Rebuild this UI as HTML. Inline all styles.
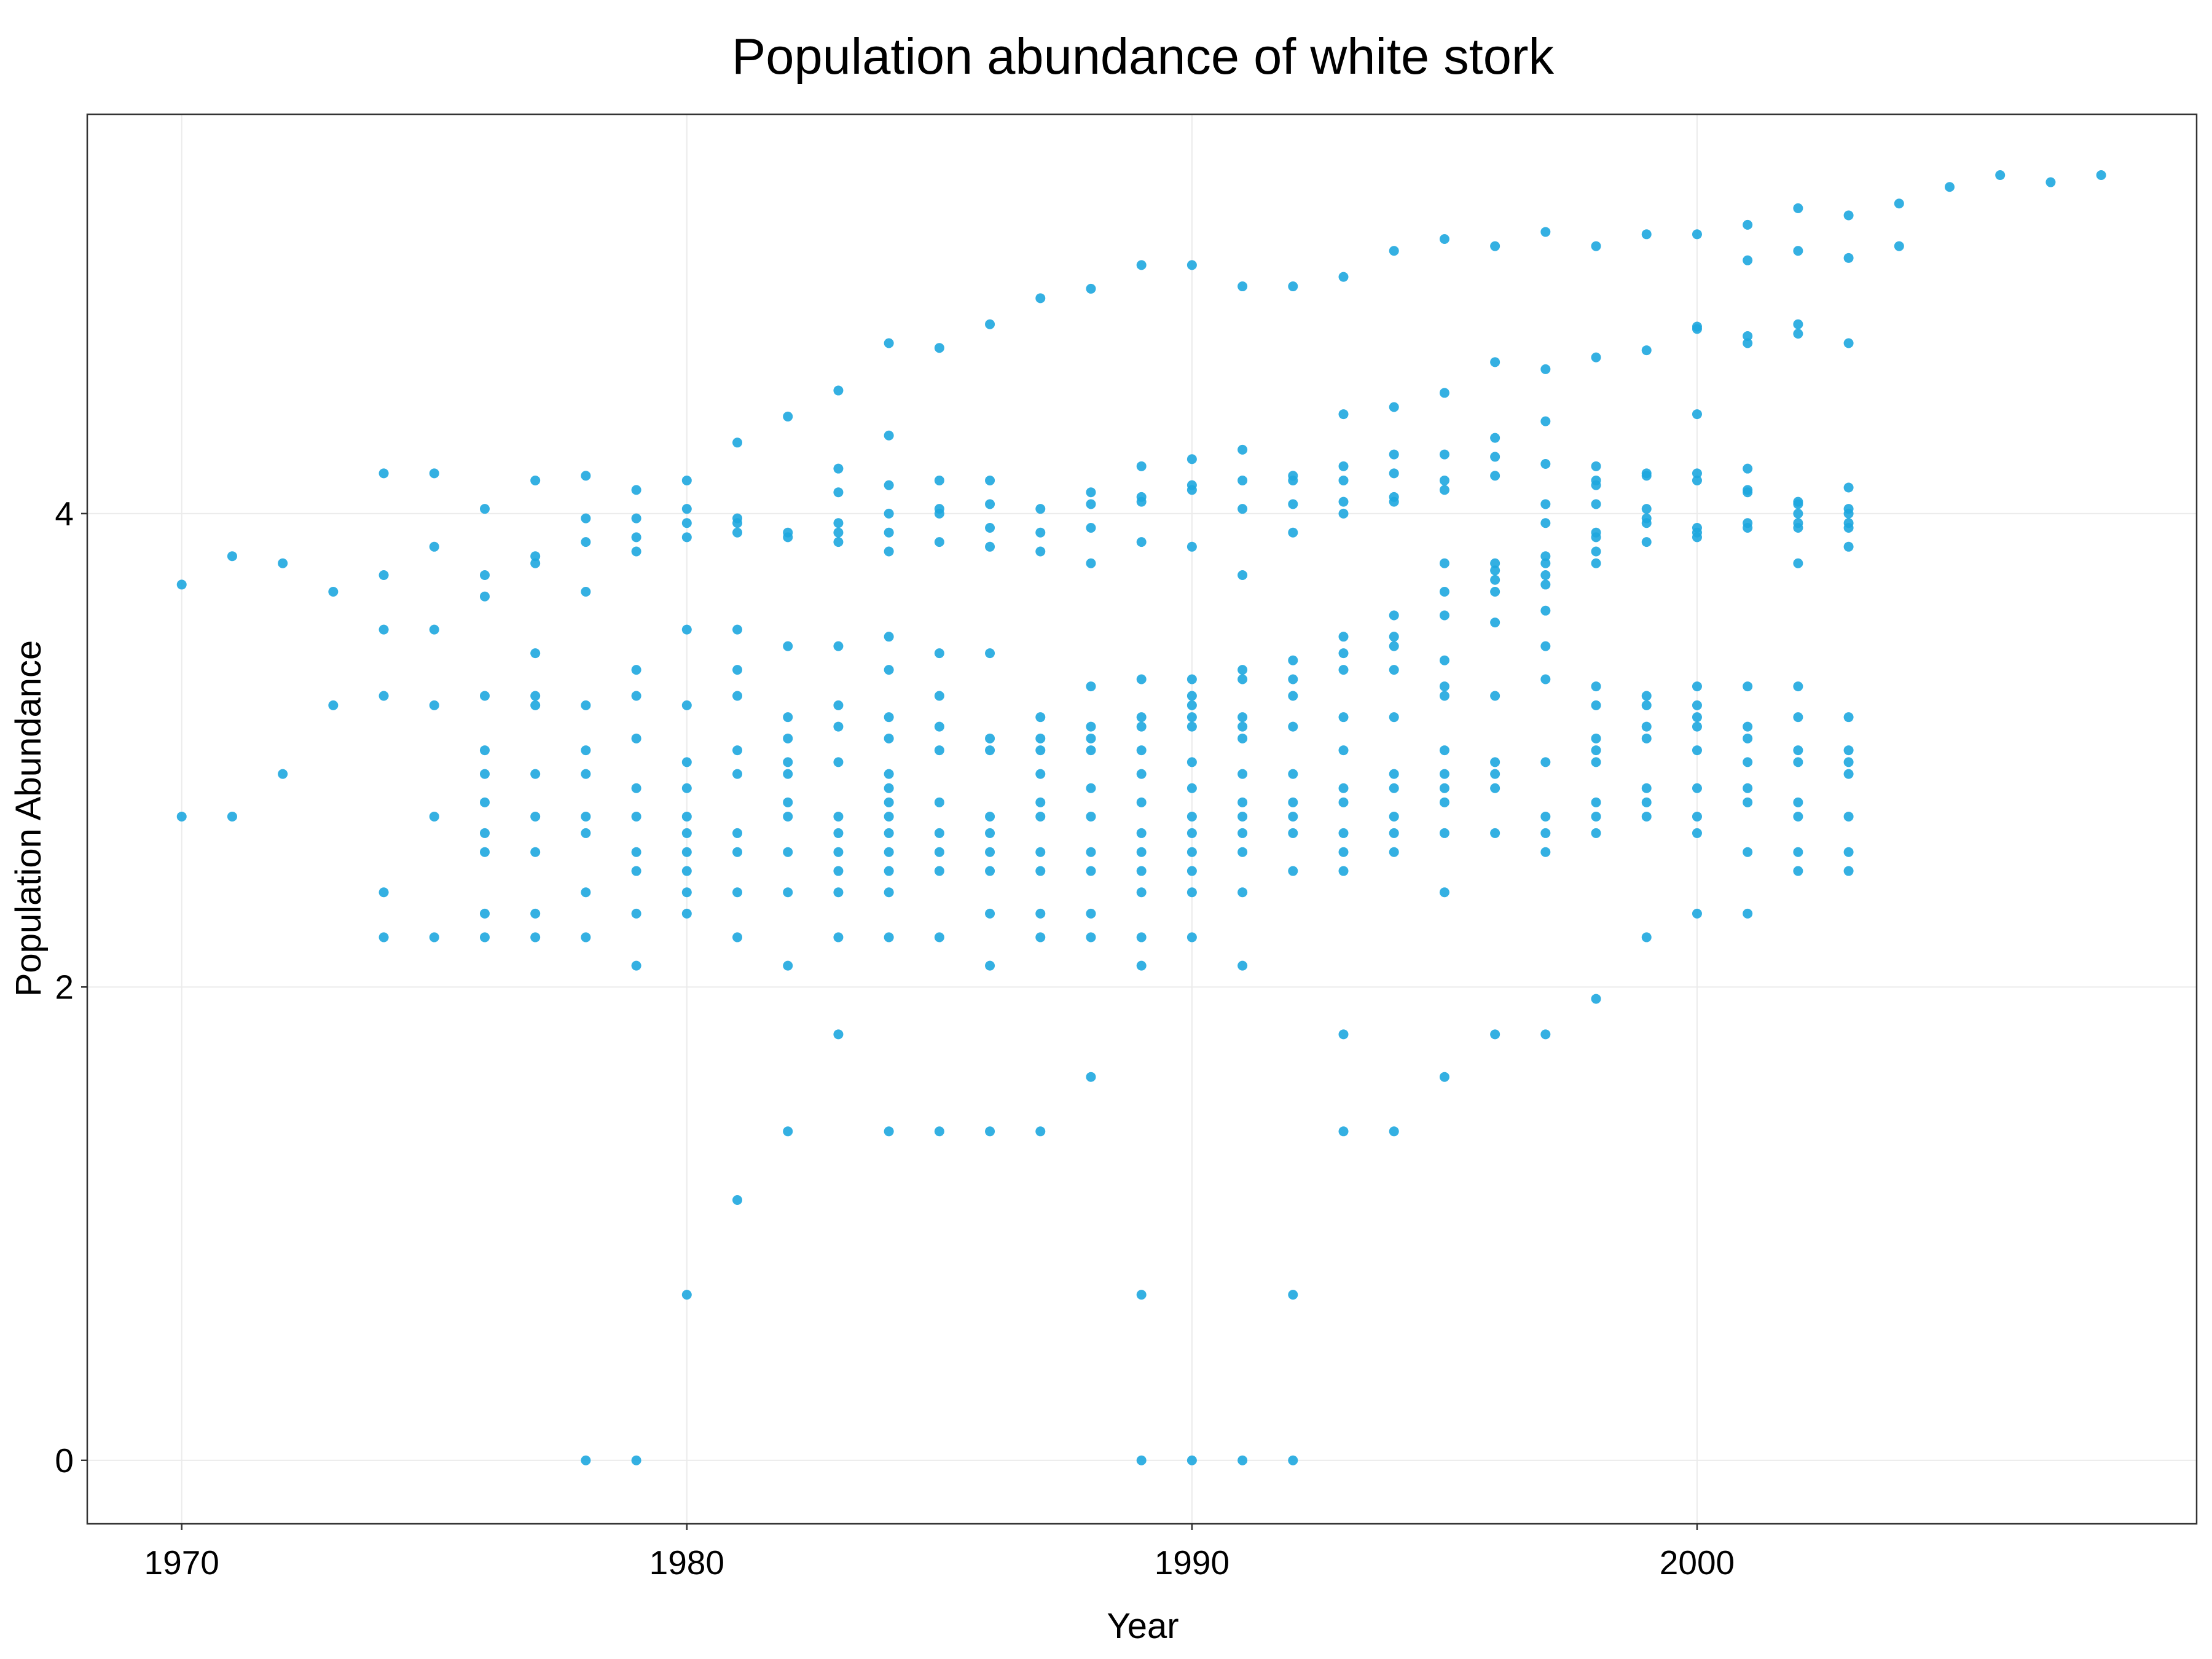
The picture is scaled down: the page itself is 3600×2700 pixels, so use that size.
<!DOCTYPE html>
<html><head><meta charset="utf-8">
<style>
html,body{margin:0;padding:0;background:#fff;}
svg{display:block;font-family:"Liberation Sans",Arial,sans-serif;}
</style></head>
<body>
<svg id="chart" width="3600" height="2700" viewBox="0 0 3600 2700">
<rect x="0" y="0" width="3600" height="2700" fill="#fff"/>
<text x="1860" y="120" font-size="83" text-anchor="middle" fill="#000">Population abundance of white stork</text>
<g id="grid"></g>
<g id="points"></g>
<rect x="142" y="186" width="3433" height="2294" fill="none" stroke="#333" stroke-width="2.5"/>
<g id="axes"></g>
<text x="1860" y="2666" font-size="58" text-anchor="middle" fill="#000">Year</text>
<text x="0" y="0" font-size="58" text-anchor="middle" fill="#000" transform="translate(66,1332) rotate(-90)">Population Abundance</text>
</svg>
<script>
const years = [1970,1971,1972,1973,1974,1975,1976,1977,1978,1979,1980,1981,1982,1983,1984,1985,1986,1987,1988,1989,1990,1991,1992,1993,1994,1995,1996,1997,1998,1999,2000,2001,2002,2003,2004,2005,2006,2007,2008];
const values = [
[3.70,2.72],
[3.82,2.72],
[3.79,2.90],
[3.67,3.19],
[4.17,3.74,3.51,3.23,2.40,2.21],
[4.17,3.86,3.51,3.19,2.72,2.21],
[4.02,3.74,3.65,3.23,3.00,2.90,2.78,2.65,2.57,2.31,2.21],
[4.14,3.82,3.79,3.41,3.23,3.19,2.90,2.72,2.57,2.31,2.21],
[4.16,3.98,3.88,3.67,3.19,3.00,2.90,2.72,2.65,2.40,2.21,0],
[4.10,3.98,3.90,3.84,3.34,3.23,3.05,2.84,2.72,2.57,2.49,2.31,2.09,0],
[4.14,4.02,3.96,3.90,3.51,3.19,2.95,2.84,2.72,2.65,2.57,2.49,2.40,2.31,0.70],
[4.30,3.98,3.96,3.92,3.51,3.34,3.23,3.00,2.90,2.65,2.57,2.40,2.21,1.10],
[4.41,3.92,3.90,3.44,3.14,3.05,2.95,2.90,2.78,2.72,2.57,2.40,2.09,1.39],
[4.52,4.19,4.09,3.96,3.92,3.88,3.44,3.19,3.10,2.95,2.72,2.65,2.57,2.49,2.40,2.21,1.80],
[4.72,4.33,4.12,4.00,3.92,3.84,3.48,3.34,3.14,3.05,2.90,2.84,2.78,2.72,2.65,2.57,2.49,2.40,2.21,1.39],
[4.70,4.14,4.02,4.00,3.88,3.41,3.23,3.10,3.00,2.78,2.65,2.57,2.49,2.21,1.39],
[4.80,4.14,4.04,3.94,3.86,3.41,3.05,3.00,2.72,2.65,2.57,2.49,2.31,2.09,1.39],
[4.91,4.02,3.92,3.84,3.14,3.05,3.00,2.90,2.78,2.72,2.57,2.49,2.31,2.21,1.39],
[4.95,4.09,4.04,3.94,3.79,3.27,3.10,3.05,3.00,2.84,2.72,2.57,2.49,2.31,2.21,1.62],
[5.05,4.20,4.07,4.05,3.88,3.30,3.14,3.10,3.00,2.90,2.78,2.65,2.57,2.49,2.40,2.21,2.09,0.70,0],
[5.05,4.23,4.12,4.10,3.86,3.30,3.23,3.19,3.14,3.10,2.95,2.84,2.72,2.65,2.57,2.49,2.40,2.21,0],
[4.96,4.27,4.14,4.02,3.74,3.34,3.30,3.14,3.10,3.05,2.90,2.78,2.72,2.65,2.57,2.40,2.09,0],
[4.96,4.16,4.14,4.04,3.92,3.38,3.30,3.23,3.10,2.90,2.78,2.72,2.65,2.49,0.70,0],
[5.00,4.42,4.20,4.14,4.05,4.00,3.48,3.41,3.34,3.14,3.00,2.84,2.78,2.65,2.57,2.49,1.80,1.39],
[5.11,4.45,4.25,4.17,4.07,4.05,3.57,3.48,3.44,3.34,3.14,2.90,2.84,2.72,2.65,2.57,1.39],
[5.16,4.51,4.25,4.14,4.10,3.79,3.67,3.57,3.38,3.27,3.23,3.00,2.90,2.84,2.78,2.65,2.40,1.62],
[5.13,4.64,4.32,4.24,4.16,3.79,3.76,3.72,3.67,3.54,3.23,2.95,2.90,2.84,2.65,1.80],
[5.19,4.61,4.39,4.21,4.04,3.96,3.82,3.79,3.74,3.70,3.59,3.44,3.30,2.95,2.72,2.65,2.57,1.80],
[5.13,4.66,4.20,4.14,4.12,4.04,3.92,3.90,3.84,3.79,3.27,3.19,3.05,3.00,2.95,2.78,2.72,2.65,1.95],
[5.18,4.69,4.17,4.16,4.02,3.98,3.96,3.88,3.23,3.19,3.10,3.05,2.84,2.78,2.72,2.21],
[5.18,4.79,4.78,4.42,4.17,4.14,3.94,3.92,3.90,3.27,3.19,3.14,3.10,3.00,2.84,2.72,2.65,2.31],
[5.22,5.07,4.75,4.72,4.19,4.10,4.09,3.96,3.94,3.27,3.10,3.05,2.95,2.84,2.78,2.57,2.31],
[5.29,5.11,4.80,4.76,4.05,4.04,4.00,3.96,3.94,3.79,3.27,3.14,3.00,2.95,2.78,2.72,2.57,2.49],
[5.26,5.08,4.72,4.11,4.02,4.00,3.96,3.94,3.86,3.14,3.00,2.95,2.90,2.72,2.57,2.49],
[5.31,5.13],
[5.38],
[5.43],
[5.40],
[5.43]
];
const xTicks = [1970,1980,1990,2000];
const yTicks = [0,2,4];

const NS = "http://www.w3.org/2000/svg";
const L=142,R=3575,T=186,B=2480;
const xMin=1968.13,xMax=2009.89,yMin=-0.268,yMax=5.687;
const xs = v => L + (v-xMin)/(xMax-xMin)*(R-L);
const ys = v => B - (v-yMin)/(yMax-yMin)*(B-T);

const grid=document.getElementById('grid');
const axes=document.getElementById('axes');
const pts=document.getElementById('points');

xTicks.forEach(t=>{
  const g=document.createElementNS(NS,'line');
  g.setAttribute('x1',xs(t));g.setAttribute('x2',xs(t));g.setAttribute('y1',T);g.setAttribute('y2',B);
  g.setAttribute('stroke','#ebebeb');g.setAttribute('stroke-width','2');
  
  
  grid.appendChild(g);
  const tk=document.createElementNS(NS,'line');
  tk.setAttribute('x1',xs(t));tk.setAttribute('x2',xs(t));tk.setAttribute('y1',B);tk.setAttribute('y2',B+10);
  tk.setAttribute('stroke','#333');tk.setAttribute('stroke-width','2.5');
  
  
  axes.appendChild(tk);
  const tx=document.createElementNS(NS,'text');
  tx.setAttribute('x',xs(t));tx.setAttribute('y',2562);tx.setAttribute('font-size','55');tx.setAttribute('text-anchor','middle');
  tx.textContent=t;
  
  
  axes.appendChild(tx);
});
yTicks.forEach(t=>{
  const g=document.createElementNS(NS,'line');
  g.setAttribute('x1',L);g.setAttribute('x2',R);g.setAttribute('y1',ys(t));g.setAttribute('y2',ys(t));
  g.setAttribute('stroke','#ebebeb');g.setAttribute('stroke-width','2');
  
  
  grid.appendChild(g);
  const tk=document.createElementNS(NS,'line');
  tk.setAttribute('x1',L-10);tk.setAttribute('x2',L);tk.setAttribute('y1',ys(t));tk.setAttribute('y2',ys(t));
  tk.setAttribute('stroke','#333');tk.setAttribute('stroke-width','2.5');
  
  
  axes.appendChild(tk);
  const tx=document.createElementNS(NS,'text');
  tx.setAttribute('x',120);tx.setAttribute('y',ys(t)+19);tx.setAttribute('font-size','55');tx.setAttribute('text-anchor','end');
  tx.textContent=t;
  
  
  axes.appendChild(tx);
});
years.forEach((yr,i)=>{
  values[i].forEach(v=>{
    const c=document.createElementNS(NS,'circle');
    c.setAttribute('cx',xs(yr));c.setAttribute('cy',ys(v));c.setAttribute('r','8');
    c.setAttribute('fill','#1ea7df');c.setAttribute('fill-opacity','0.9');
    
    
    pts.appendChild(c);
  });
});
</script>
</body></html>
